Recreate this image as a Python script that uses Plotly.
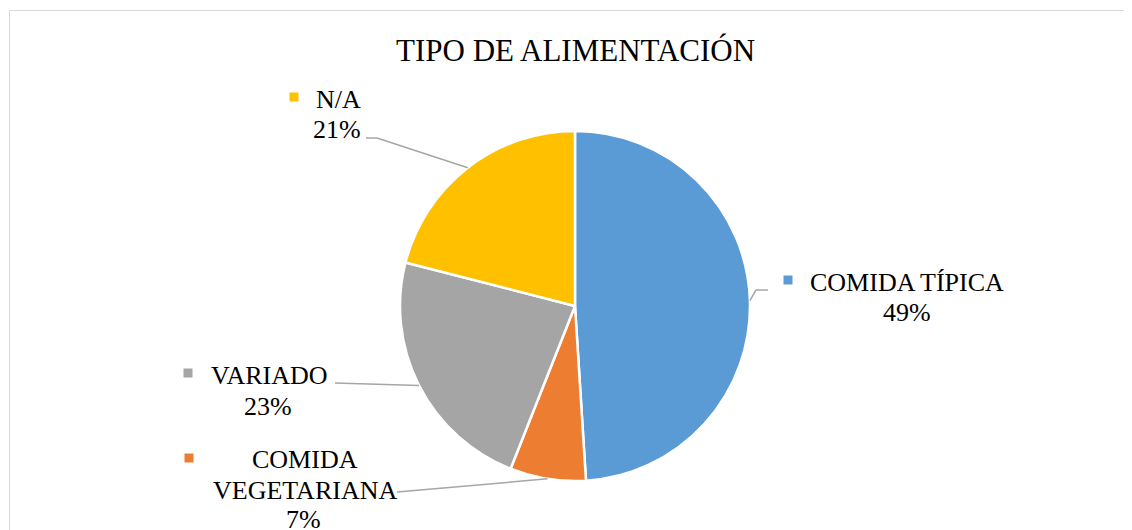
import math
import plotly.graph_objects as go

# ---- data ----
categories = ["COMIDA TÍPICA", "COMIDA VEGETARIANA", "VARIADO", "N/A"]
values = [49, 7, 23, 21]
colors = ["#5B9BD5", "#ED7D31", "#A5A5A5", "#FFC000"]
title_text = "TIPO DE ALIMENTACIÓN"

OFF = 8  # page body margin
W, H = 1132 - OFF, 530 - OFF
CX, CY, R = 575, 306, 175  # pie centre / radius in window pixels

FONT = "Liberation Serif"


def px(x):
    return (x - OFF) / W


def py(y):
    return 1 - (y - OFF) / H


fig = go.Figure()
fig.add_trace(go.Pie(
    labels=categories,
    values=values,
    sort=False,
    direction="clockwise",
    rotation=0,
    marker=dict(colors=colors, line=dict(color="white", width=2.5)),
    textinfo="none",
    hoverinfo="label+percent",
    domain=dict(x=[px(CX - R), px(CX + R)], y=[py(CY + R), py(CY - R)]),
    showlegend=False,
))

label_layout = {
    "COMIDA TÍPICA": dict(sq=(788, 280), name=[("COMIDA TÍPICA", 907, 282)], pct=(907, 312),
                          leader=[(756, 290), (768, 290)]),
    "COMIDA VEGETARIANA": dict(sq=(189, 458), name=[("COMIDA", 305, 459), ("VEGETARIANA", 305, 490)],
                               pct=(303, 519), leader=[(397, 492)]),
    "VARIADO": dict(sq=(188, 373), name=[("VARIADO", 269, 375)], pct=(268, 406),
                    leader=[(335, 383)]),
    "N/A": dict(sq=(294, 97), name=[("N/A", 338, 99)], pct=(337, 130),
                leader=[(377, 138), (366, 138)]),
}

total = sum(values)
shapes = []
annotations = []
cum = 0
for cat, val, col in zip(categories, values, colors):
    mid = (cum + val / 2) / total
    cum += val
    ang = 2 * math.pi * mid
    ex = CX + R * math.sin(ang)
    ey = CY - R * math.cos(ang)
    lay = label_layout[cat]
    pts = [(ex, ey)] + lay["leader"]
    for (x0, y0), (x1, y1) in zip(pts[:-1], pts[1:]):
        shapes.append(dict(type="line", xref="paper", yref="paper",
                           x0=px(x0), y0=py(y0), x1=px(x1), y1=py(y1),
                           line=dict(color="#A6A6A6", width=1.5)))
    sx, sy = lay["sq"]
    shapes.append(dict(type="rect", xref="paper", yref="paper",
                       x0=px(sx - 4.5), x1=px(sx + 4.5), y0=py(sy + 4.5), y1=py(sy - 4.5),
                       fillcolor=col, line=dict(width=0)))
    for txt, tx, ty in lay["name"]:
        annotations.append(dict(text=txt, x=px(tx), y=py(ty), xref="paper", yref="paper",
                                xanchor="center", yanchor="middle", showarrow=False,
                                font=dict(family=FONT, size=26, color="#000000")))
    pct = round(100 * val / total)
    annotations.append(dict(text=f"{pct}%", x=px(lay["pct"][0]), y=py(lay["pct"][1]),
                            xref="paper", yref="paper", xanchor="center", yanchor="middle",
                            showarrow=False, font=dict(family=FONT, size=26, color="#000000")))

annotations.append(dict(text=title_text, x=px(575), y=py(50), xref="paper", yref="paper",
                        xanchor="center", yanchor="middle", showarrow=False,
                        font=dict(family=FONT, size=31, color="#000000")))

# outer chart border (cropped at right / bottom)
shapes.append(dict(type="rect", xref="paper", yref="paper",
                   x0=px(9.5), x1=px(1132 + 20), y0=py(530 + 20), y1=py(10.5),
                   line=dict(color="#D9D9D9", width=1), fillcolor="rgba(0,0,0,0)"))

fig.update_layout(
    width=W, height=H,
    margin=dict(l=0, r=0, t=0, b=0),
    paper_bgcolor="white", plot_bgcolor="white",
    font=dict(family=FONT),
    shapes=shapes, annotations=annotations,
    showlegend=False,
)

fig.write_html("out.html")
